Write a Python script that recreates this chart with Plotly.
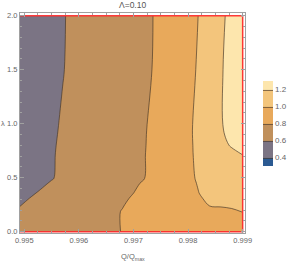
import plotly.graph_objects as go

# Q/Qmax grid (columns) and lambda grid (rows)
q_vals = [0.99492, 0.99510, 0.99530, 0.99550, 0.99570, 0.99590, 0.99620, 0.99660,
          0.99680, 0.99700, 0.99720, 0.99740, 0.99770, 0.99800, 0.99820, 0.99840,
          0.99860, 0.99880, 0.99900]
lam_vals = [0.0, 0.185, 0.238, 0.309, 0.37, 0.448, 0.494, 0.71, 0.80, 0.94, 1.5, 2.0]

z_rows = [
    [0.648, 0.663, 0.679, 0.696, 0.713, 0.729, 0.754, 0.787, 0.803, 0.814, 0.826, 0.837, 0.855, 0.872, 0.884, 0.895, 0.907, 0.918, 0.930],
    [0.613, 0.631, 0.652, 0.672, 0.692, 0.713, 0.743, 0.784, 0.804, 0.822, 0.840, 0.858, 0.885, 0.912, 0.930, 0.948, 0.966, 0.984, 1.002],
    [0.599, 0.619, 0.640, 0.661, 0.682, 0.702, 0.734, 0.776, 0.797, 0.821, 0.847, 0.872, 0.911, 0.949, 0.974, 1.001, 1.007, 1.013, 1.020],
    [0.581, 0.601, 0.622, 0.644, 0.666, 0.687, 0.720, 0.763, 0.785, 0.810, 0.841, 0.872, 0.918, 0.964, 0.995, 1.010, 1.023, 1.035, 1.047],
    [0.564, 0.584, 0.606, 0.629, 0.651, 0.674, 0.707, 0.752, 0.774, 0.797, 0.830, 0.864, 0.916, 0.967, 1.001, 1.018, 1.035, 1.053, 1.070],
    [0.540, 0.561, 0.585, 0.608, 0.631, 0.655, 0.690, 0.737, 0.760, 0.783, 0.812, 0.852, 0.913, 0.974, 1.008, 1.031, 1.054, 1.077, 1.100],
    [0.525, 0.547, 0.571, 0.595, 0.619, 0.643, 0.679, 0.727, 0.751, 0.775, 0.799, 0.843, 0.910, 0.978, 1.013, 1.039, 1.066, 1.092, 1.118],
    [0.522, 0.544, 0.568, 0.592, 0.616, 0.640, 0.676, 0.724, 0.748, 0.772, 0.796, 0.839, 0.909, 0.979, 1.024, 1.068, 1.112, 1.156, 1.199],
    [0.521, 0.543, 0.566, 0.590, 0.614, 0.638, 0.674, 0.722, 0.746, 0.770, 0.794, 0.835, 0.906, 0.976, 1.031, 1.092, 1.154, 1.215, 1.277],
    [0.516, 0.538, 0.562, 0.586, 0.610, 0.634, 0.671, 0.719, 0.743, 0.767, 0.792, 0.831, 0.904, 0.976, 1.036, 1.109, 1.182, 1.254, 1.327],
    [0.500, 0.522, 0.547, 0.571, 0.596, 0.620, 0.657, 0.706, 0.731, 0.755, 0.780, 0.809, 0.884, 0.960, 1.017, 1.100, 1.183, 1.267, 1.350],
    [0.496, 0.518, 0.543, 0.568, 0.593, 0.618, 0.655, 0.704, 0.729, 0.753, 0.778, 0.806, 0.880, 0.953, 1.004, 1.086, 1.167, 1.249, 1.330],
]

band_colors = ["#2b5a92", "#7b7484", "#c0905c", "#e8a95b", "#f3c57c", "#fde6ad"]
cbar_ticks = [0.4, 0.6, 0.8, 1.0, 1.2]
x_ticks = [0.995, 0.996, 0.997, 0.998, 0.999]
x_ticklabels = ["0.995", "0.996", "0.997", "0.998", "0.999"]
y_ticks = [0.0, 0.5, 1.0, 1.5, 2.0]
y_ticklabels = ["0.0", "0.5", "1.0", "1.5", "2.0"]

n = len(band_colors)
colorscale = [[i / (n - 1), c] for i, c in enumerate(band_colors)]

TXT = "#666666"
FRAME = "#a0a0a0"
FONT = "Liberation Sans, Arial, sans-serif"

fig = go.Figure()
fig.add_trace(go.Contour(
    x=q_vals, y=lam_vals, z=z_rows,
    autocontour=False,
    contours=dict(start=0.4, end=1.2, size=0.2, coloring="fill", showlines=True),
    line=dict(color="rgba(70,55,40,0.75)", width=0.9),
    colorscale=colorscale,
    colorbar=dict(
        x=1.079, xanchor="left", xpad=0, ypad=0,
        y=0.498, yanchor="middle", len=0.386, lenmode="fraction",
        thickness=10, outlinewidth=0,
        tickmode="array", tickvals=cbar_ticks, tickformat=".1f",
        ticks="", tickfont=dict(size=8, color=TXT, family=FONT),
    ),
    hoverinfo="skip",
))

# domain boundary (red)
fig.add_trace(go.Scatter(
    x=[q_vals[0], q_vals[-1], q_vals[-1], q_vals[0]],
    y=[lam_vals[-1], lam_vals[-1], lam_vals[0], lam_vals[0]],
    mode="lines", line=dict(color="rgba(255,40,40,0.9)", width=1.5),
    showlegend=False, hoverinfo="skip",
))

fig.update_layout(
    width=291, height=262,
    margin=dict(l=20, r=46, t=13, b=29, autoexpand=False),
    paper_bgcolor="white", plot_bgcolor="white",
    showlegend=False,
    font=dict(family=FONT, size=7.5, color=TXT),
    annotations=[
        dict(text="Λ=0.10", x=0.5, y=1, xref="paper", yref="paper",
             xanchor="center", yanchor="bottom", yshift=1, showarrow=False,
             font=dict(size=8.5, color="#555555", family=FONT)),
        dict(text="Q/Q<sub>max</sub>", x=0.5, y=0, xref="paper", yref="paper",
             xanchor="center", yanchor="top", yshift=-17, showarrow=False,
             font=dict(size=7.5, color=TXT, family=FONT)),
        dict(text="λ", x=0, y=0.5, xref="paper", yref="paper",
             xanchor="right", yanchor="middle", xshift=-13, showarrow=False,
             font=dict(size=7.5, color=TXT, family=FONT)),
    ],
)

axis_common = dict(
    showgrid=False, zeroline=False, showline=True, linecolor=FRAME, linewidth=1,
    mirror="allticks", ticks="inside", ticklen=4, tickcolor=FRAME, tickwidth=0.8,
    tickfont=dict(size=7.5, color=TXT, family=FONT), automargin=False,
)
fig.update_xaxes(range=[0.9949207, 0.9990427], tickvals=x_ticks, ticktext=x_ticklabels,
                 minor=dict(dtick=0.00025, ticks="inside", ticklen=2, tickcolor=FRAME),
                 **axis_common)
fig.update_yaxes(range=[-0.0123, 2.0247], tickvals=y_ticks, ticktext=y_ticklabels,
                 minor=dict(dtick=0.1, ticks="inside", ticklen=2, tickcolor=FRAME),
                 **axis_common)

# remove the browser's default 8px body margin so the figure fills the window
fig.write_html("out.html", config={"displayModeBar": False},
               post_script="document.body.style.margin='0px';")
